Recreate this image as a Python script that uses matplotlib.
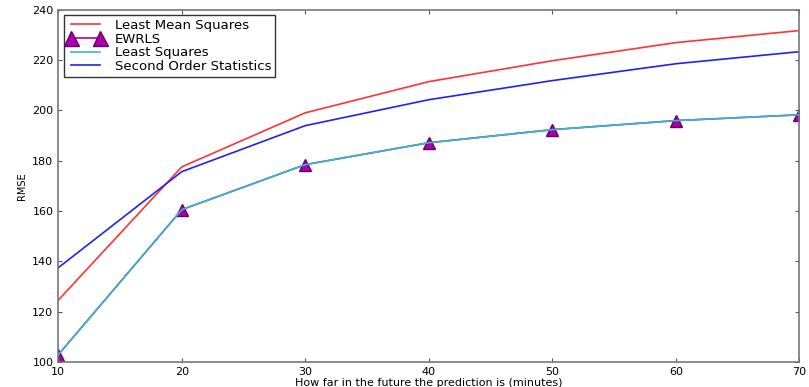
import numpy as np
import matplotlib.pyplot as plt

horizon = [10, 20, 30, 40, 50, 60, 70]
lms = [124.5, 177.5, 199.0, 211.4, 219.7, 226.9, 231.7]
ewrls = [102.8, 160.5, 178.4, 187.1, 192.3, 195.9, 198.2]
ls = [102.8, 160.5, 178.4, 187.1, 192.3, 195.9, 198.2]
sos = [137.4, 175.6, 193.9, 204.2, 211.8, 218.5, 223.3]

fig = plt.figure(figsize=(8.09, 3.87), dpi=100)
ax = fig.add_axes([0.072, 0.065, 0.916, 0.91])

ax.plot(horizon, lms, color='#ff3333', lw=1.2, label='Least Mean Squares')
ax.plot(horizon, ewrls, color='#aa00aa', lw=1.2, marker='^', markersize=9,
        markerfacecolor='#aa00aa', markeredgecolor='#660066', label='EWRLS', zorder=2)
ax.plot(horizon, ls, color='#33bbcc', lw=1.2, label='Least Squares', zorder=3)
ax.plot(horizon, sos, color='#2222ee', lw=1.2, label='Second Order Statistics')

ax.set_xlim(10, 70)
ax.set_ylim(100, 240)
ax.set_xticks(range(10, 71, 10))
ax.set_yticks(range(100, 241, 20))
ax.tick_params(direction='in', top=True, right=True, labelsize=8, length=3, color='#555555')
for s in ax.spines.values():
    s.set_color('#777777')
    s.set_linewidth(1.2)

ax.set_xlabel('How far in the future the prediction is (minutes)', fontsize=8, labelpad=1)
ax.set_ylabel('RMSE', fontsize=7)

leg = ax.legend(loc='upper left', numpoints=2, fontsize=9.5, fancybox=False,
                framealpha=1, borderpad=0.3, labelspacing=0.05, handlelength=2.8,
                borderaxespad=0.4, markerscale=1.2)
leg.get_frame().set_edgecolor('#333333')

plt.savefig('out.png', dpi=100)
